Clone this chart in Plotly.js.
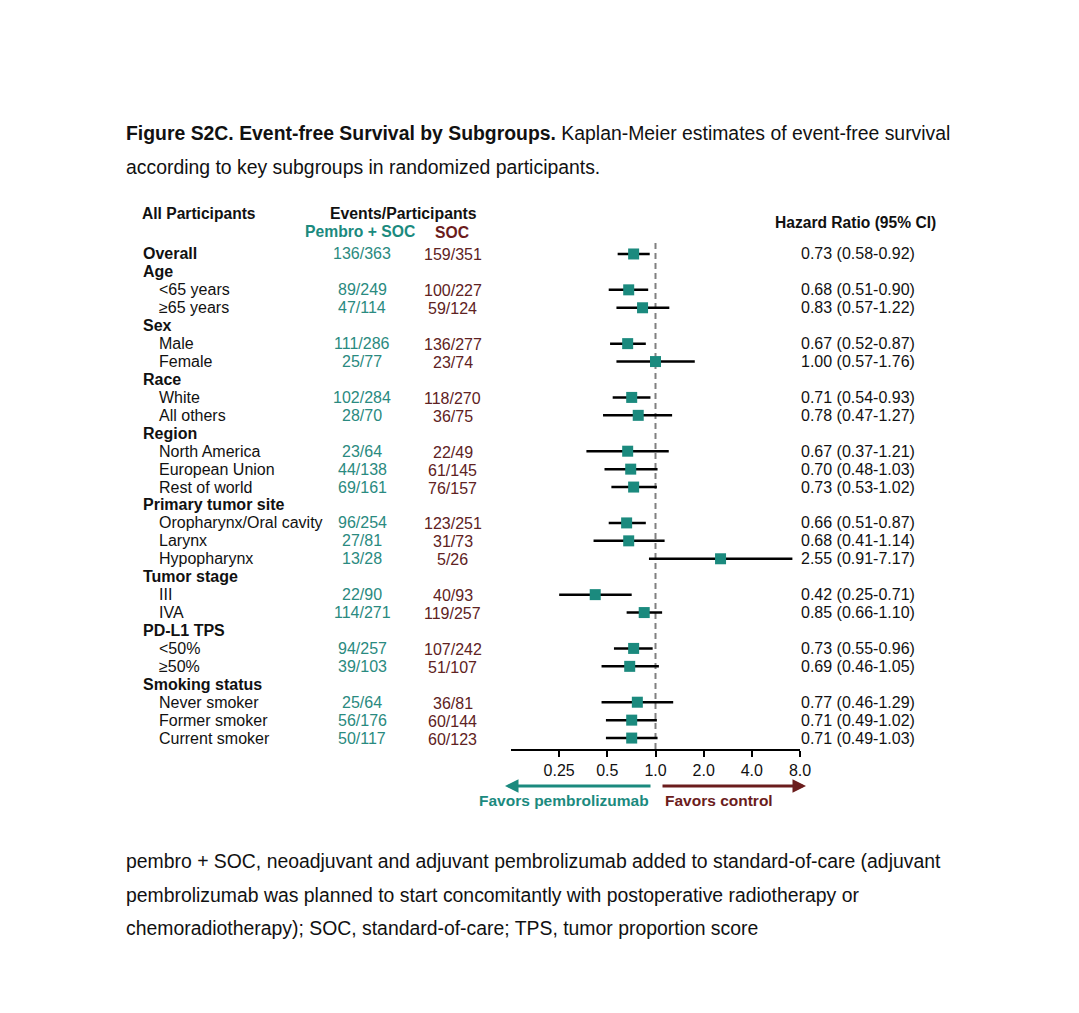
<!DOCTYPE html>
<html>
<head>
<meta charset="utf-8">
<script src="https://cdn.plot.ly/plotly-3.0.1.min.js"></script>
<style>html,body{margin:0;padding:0;background:#fff;}#chart{width:1079px;height:1013px;}</style>
</head>
<body>
<div id="chart"></div>
<script>
// ---- data ----
const labels = ["Overall","Age","<65 years","≥65 years","Sex","Male","Female","Race","White","All others","Region","North America","European Union","Rest of world","Primary tumor site","Oropharynx/Oral cavity","Larynx","Hypopharynx","Tumor stage","III","IVA","PD-L1 TPS","<50%","≥50%","Smoking status","Never smoker","Former smoker","Current smoker"];
const isHeader = [1,1,0,0,1,0,0,1,0,0,1,0,0,0,1,0,0,0,1,0,0,1,0,0,1,0,0,0];
const pembroEvents = ["136/363","","89/249","47/114","","111/286","25/77","","102/284","28/70","","23/64","44/138","69/161","","96/254","27/81","13/28","","22/90","114/271","","94/257","39/103","","25/64","56/176","50/117"];
const socEvents = ["159/351","","100/227","59/124","","136/277","23/74","","118/270","36/75","","22/49","61/145","76/157","","123/251","31/73","5/26","","40/93","119/257","","107/242","51/107","","36/81","60/144","60/123"];
const hr = [0.73,null,0.68,0.83,null,0.67,1.00,null,0.71,0.78,null,0.67,0.70,0.73,null,0.66,0.68,2.55,null,0.42,0.85,null,0.73,0.69,null,0.77,0.71,0.71];
const ciLow = [0.58,null,0.51,0.57,null,0.52,0.57,null,0.54,0.47,null,0.37,0.48,0.53,null,0.51,0.41,0.91,null,0.25,0.66,null,0.55,0.46,null,0.46,0.49,0.49];
const ciHigh = [0.92,null,0.90,1.22,null,0.87,1.76,null,0.93,1.27,null,1.21,1.03,1.02,null,0.87,1.14,7.17,null,0.71,1.10,null,0.96,1.05,null,1.29,1.02,1.03];
const tickVals = [0.25,0.5,1,2,4,8];
const tickText = ["0.25","0.5","1.0","2.0","4.0","8.0"];

// ---- styling ----
const W = 1079, H = 1013;
const FONT = "Liberation Sans, Arial, Helvetica, sans-serif";
const TEAL = "#1b8a7e", TEAL_TXT = "#2a8a80", RED = "#6b1c1c", RED_TXT = "#5e2222", INK = "#111111";
const px = v => v / W;
const py = v => 1 - v / H;
const LPAD = 2; // annotation inner padding compensation for left-anchored text

const rows = labels.map((_, i) => i);

// CI segments
const ciX = [], ciY = [];
rows.forEach(i => { if (hr[i] !== null) { ciX.push(ciLow[i], ciHigh[i], null); ciY.push(i, i, null); } });

const traces = [
  {type: "scatter", mode: "lines", x: ciX, y: ciY, line: {color: "#000", width: 2.5}, hoverinfo: "skip", showlegend: false},
  {type: "scatter", mode: "markers", x: hr, y: rows, marker: {symbol: "square", size: 11, color: TEAL}, showlegend: false}
];

const ann = [];
const t = (text, x, y, opts) => Object.assign({text, x, y, xref: "paper", yref: "paper", showarrow: false,
  xanchor: "left", yanchor: "middle", font: {family: FONT, size: 16, color: INK}}, opts || {});
const CAP = {family: FONT, size: 19.4, color: INK};

// caption
ann.push(t("<b>Figure S2C. Event-free Survival by Subgroups.</b> Kaplan-Meier estimates of event-free survival", px(126 - LPAD), py(133), {font: CAP}));
ann.push(t("according to key subgroups in randomized participants.", px(126 - LPAD), py(167), {font: CAP}));
// footnote
ann.push(t("pembro + SOC, neoadjuvant and adjuvant pembrolizumab added to standard-of-care (adjuvant", px(126 - LPAD), py(861), {font: CAP}));
ann.push(t("pembrolizumab was planned to start concomitantly with postoperative radiotherapy or", px(126 - LPAD), py(895), {font: CAP}));
ann.push(t("chemoradiotherapy); SOC, standard-of-care; TPS, tumor proportion score", px(126 - LPAD), py(928), {font: CAP}));

// column headers
ann.push(t("<b>All Participants</b>", px(142 - LPAD), py(213), {font: {family: FONT, size: 15.6, color: INK}}));
ann.push(t("<b>Events/Participants</b>", px(403), py(213), {xanchor: "center", font: {family: FONT, size: 15.8, color: INK}}));
ann.push(t("<b>Pembro + SOC</b>", px(360), py(231), {xanchor: "center", font: {family: FONT, size: 15.7, color: TEAL}}));
ann.push(t("<b>SOC</b>", px(452), py(233), {xanchor: "center", font: {family: FONT, size: 15.7, color: RED}}));
ann.push(t("<b>Hazard Ratio (95% CI)</b>", px(855), py(222), {xanchor: "center", font: {family: FONT, size: 15.6, color: INK}}));

// rows
rows.forEach(i => {
  ann.push({text: isHeader[i] ? "<b>" + labels[i] + "</b>" : labels[i], x: px((isHeader[i] ? 143 : 159) - LPAD), y: i,
    xref: "paper", yref: "y", showarrow: false, xanchor: "left", yanchor: "middle",
    font: {family: FONT, size: 16, color: INK}});
  if (pembroEvents[i]) ann.push({text: pembroEvents[i], x: px(362), y: i, xref: "paper", yref: "y", showarrow: false,
    xanchor: "center", yanchor: "middle", font: {family: FONT, size: 16, color: TEAL_TXT}});
  if (socEvents[i]) ann.push({text: socEvents[i], x: px(453), y: i, xref: "paper", yref: "y", showarrow: false,
    xanchor: "center", yanchor: "middle", yshift: -1, font: {family: FONT, size: 16, color: RED_TXT}});
  if (hr[i] !== null) ann.push({text: hr[i].toFixed(2) + " (" + ciLow[i].toFixed(2) + "-" + ciHigh[i].toFixed(2) + ")",
    x: px(801 - LPAD), y: i, xref: "paper", yref: "y", showarrow: false, xanchor: "left", yanchor: "middle",
    font: {family: FONT, size: 16, color: INK}});
});

// favors arrows
ann.push({text: "", x: px(505), y: py(786), xref: "paper", yref: "paper", ax: 147, ay: 0, axref: "pixel", ayref: "pixel",
  showarrow: true, arrowhead: 2, arrowsize: 0.9, arrowwidth: 3, arrowcolor: TEAL});
ann.push({text: "", x: px(806), y: py(786), xref: "paper", yref: "paper", ax: -145, ay: 0, axref: "pixel", ayref: "pixel",
  showarrow: true, arrowhead: 2, arrowsize: 0.9, arrowwidth: 3, arrowcolor: RED});
ann.push(t("<b>Favors pembrolizumab</b>", px(564), py(800), {xanchor: "center", font: {family: FONT, size: 15.5, color: TEAL}}));
ann.push(t("<b>Favors control</b>", px(719), py(800), {xanchor: "center", font: {family: FONT, size: 15.5, color: RED}}));

const layout = {
  width: W, height: H,
  margin: {l: 0, r: 0, t: 0, b: 0},
  paper_bgcolor: "#fff", plot_bgcolor: "rgba(0,0,0,0)",
  showlegend: false,
  xaxis: {
    type: "log", domain: [px(511), px(800)],
    range: [Math.log10(0.125), Math.log10(8)],
    tickvals: tickVals, ticktext: tickText,
    showline: true, linecolor: "#000", linewidth: 2,
    ticks: "outside", ticklen: 6, tickwidth: 2, tickcolor: "#000",
    showgrid: false, zeroline: false,
    tickfont: {family: FONT, size: 16, color: INK}, fixedrange: true
  },
  yaxis: {
    domain: [py(749), py(240)],
    range: [27.61, -0.78],
    visible: false, showgrid: false, zeroline: false, fixedrange: true
  },
  shapes: [
    {type: "line", xref: "x", yref: "paper", x0: 1, x1: 1, y0: py(749), y1: py(240),
     line: {color: "#808080", width: 2, dash: "6px,4px"}, layer: "below"}
  ],
  annotations: ann
};

Plotly.newPlot("chart", traces, layout, {displayModeBar: false, staticPlot: true});
</script>
</body>
</html>
